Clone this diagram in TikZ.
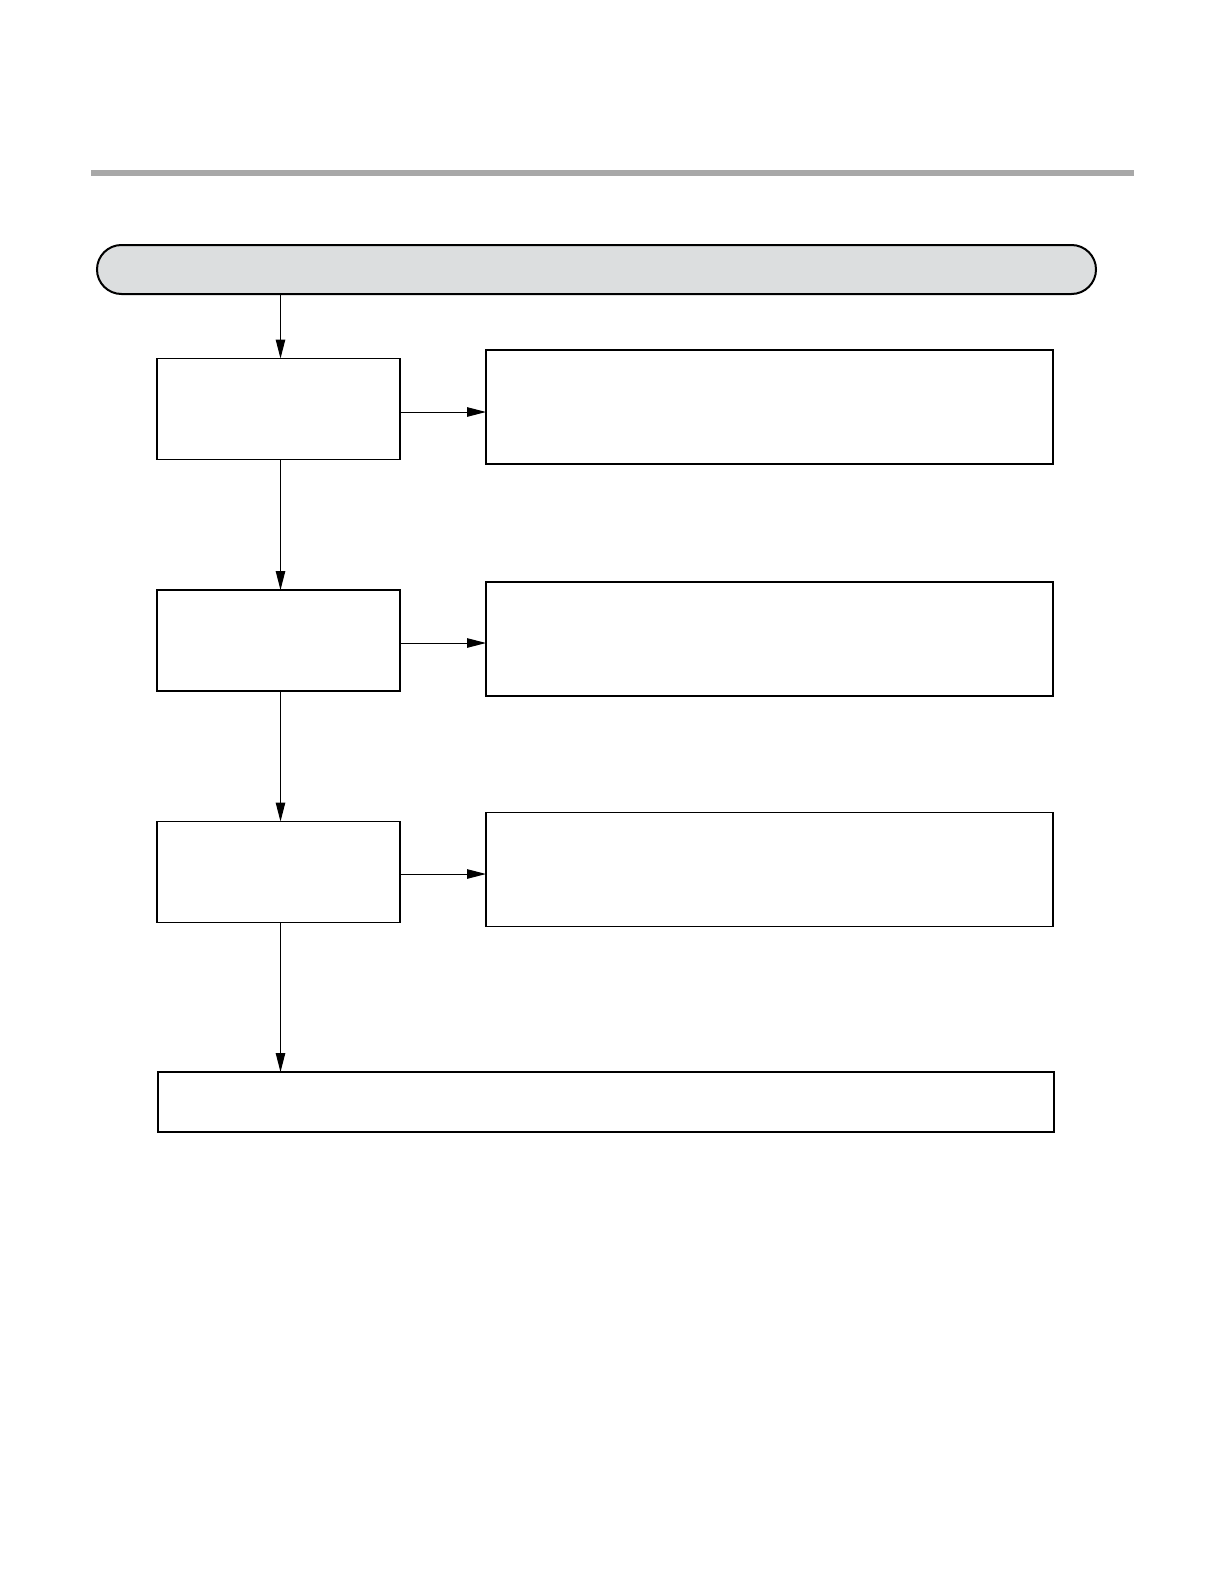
\documentclass[tikz,border=0pt]{standalone}
\usetikzlibrary{arrows.meta}
\begin{document}
\begin{tikzpicture}[x=1pt,y=-1pt,
  boxstyle/.style={draw=black,line width=1.8pt,inner sep=0pt,outer sep=0pt,rectangle},
  smallbox/.style={boxstyle,minimum width=243pt,minimum height=101pt},
  widebox/.style={boxstyle,minimum width=567pt,minimum height=114pt},
  conn/.style={draw=black,line width=1pt,-{Triangle[length=19pt,width=9.5pt]}}]
\useasboundingbox (0,0) rectangle (1225,1587);
\fill[fill={rgb,255:red,168;green,168;blue,168}] (91,170) rectangle (1134,176);
\node[draw=black,line width=2pt,fill={rgb,255:red,220;green,222;blue,223},rounded corners=24.5pt,minimum width=999pt,minimum height=49pt,inner sep=0pt,outer sep=0pt] (pill) at (596.5,269.5) {};
\node[smallbox] (b1) at (278.5,409) {};
\node[smallbox] (b2) at (278.5,640.5) {};
\node[smallbox] (b3) at (278.5,872) {};
\node[widebox] (r1) at (769.5,407) {};
\node[widebox] (r2) at (769.5,639) {};
\node[widebox] (r3) at (769.5,869.5) {};
\node[boxstyle,minimum width=896pt,minimum height=60pt] (bot) at (606,1102) {};
\draw[conn] ([xshift=2pt]pill.south -| b1.north) -- ([xshift=2pt]b1.north);
\draw[conn] ([xshift=2pt]b1.south) -- ([xshift=2pt]b2.north);
\draw[conn] ([xshift=2pt]b2.south) -- ([xshift=2pt]b3.north);
\draw[conn] ([xshift=2pt]b3.south) -- ([xshift=2pt]b3.south |- bot.north);
\draw[conn] ([yshift=-3pt]b1.east) -- ([yshift=-3pt]b1.east -| r1.west);
\draw[conn] ([yshift=-2.5pt]b2.east) -- ([yshift=-2.5pt]b2.east -| r2.west);
\draw[conn] ([yshift=-2pt]b3.east) -- ([yshift=-2pt]b3.east -| r3.west);
\end{tikzpicture}
\end{document}
